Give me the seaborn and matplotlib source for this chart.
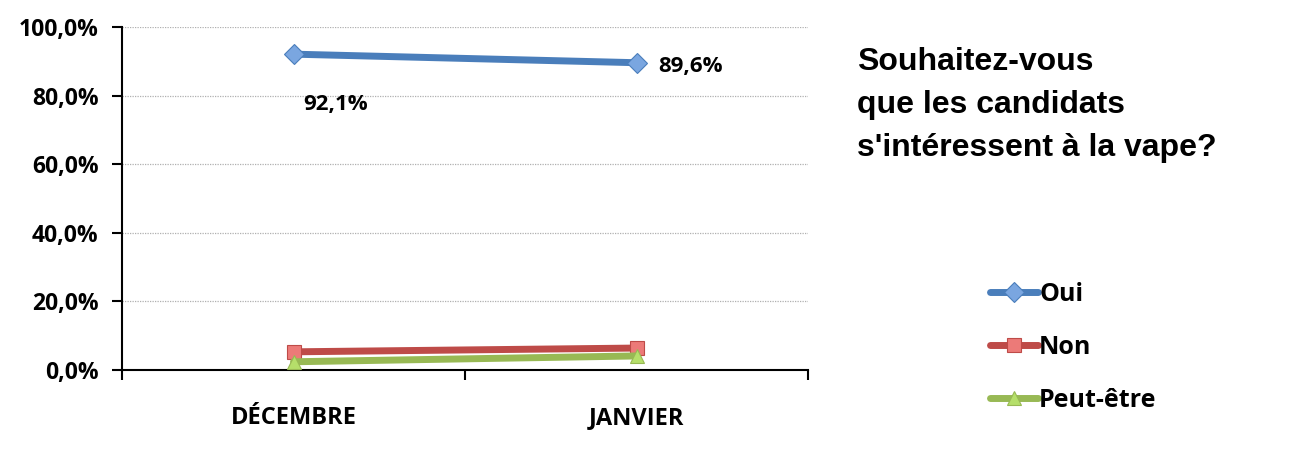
import matplotlib
matplotlib.use("Agg")
import matplotlib.pyplot as plt
import seaborn as sns
import pandas as pd
from matplotlib.ticker import FuncFormatter

months = ["DÉCEMBRE", "JANVIER"]
oui = [92.1, 89.6]
non = [5.3, 6.4]
peut_etre = [2.4, 4.1]
series_names = ["Oui", "Non", "Peut-être"]
oui_labels = ["92,1%", "89,6%"]
title_text = "Souhaitez-vous\nque les candidats\ns'intéressent à la vape?"

sns.set_style("white")
plt.rcParams['font.family'] = ['Open Sans', 'DejaVu Sans']
plt.rcParams['text.color'] = 'black'
plt.rcParams['xtick.color'] = 'black'
plt.rcParams['ytick.color'] = 'black'
plt.rcParams['xtick.bottom'] = True
plt.rcParams['ytick.left'] = True

rows = []
for name, vals in zip(series_names, [oui, non, peut_etre]):
    for i, (m, v) in enumerate(zip(months, vals)):
        rows.append({"mois": i, "serie": name, "valeur": v})
df = pd.DataFrame(rows)

fig = plt.figure(figsize=(13.02, 4.51), dpi=100)
ax = fig.add_axes([0.0937, 0.1796, 0.527, 0.7604])

palette = {"Oui": "#4a7ebb", "Non": "#be4b48", "Peut-être": "#98b954"}
mfc = {"Oui": "#7aa6e0", "Non": "#ec7a78", "Peut-être": "#b5df6a"}
markers = {"Oui": "D", "Non": "s", "Peut-être": "^"}

for name in series_names:
    sub = df[df.serie == name]
    sns.lineplot(data=sub, x="mois", y="valeur", ax=ax, color=palette[name],
                 linewidth=5.0, marker=markers[name], markersize=13,
                 markerfacecolor=mfc[name], markeredgecolor=palette[name],
                 markeredgewidth=0.8, label=name, legend=False, zorder=3)

ax.set_xlim(-0.5, 1.5)
ax.set_ylim(0, 100)
ax.set_yticks([0, 20, 40, 60, 80, 100])
ax.yaxis.set_major_formatter(FuncFormatter(lambda v, p: f"{v:.1f}%".replace(".", ",")))
ax.set_xticks([0, 1])
ax.set_xticklabels(months)
ax.set_xticks([-0.5, 0.5, 1.5], minor=True)
ax.tick_params(axis='x', which='major', length=0, pad=26, labelsize=17)
ax.tick_params(axis='x', which='minor', length=7, width=1.5, direction='out', color='black', bottom=True)
ax.tick_params(axis='y', length=7, width=1.5, direction='out', color='black', labelsize=16.5, pad=10, left=True)
for lab in ax.get_xticklabels() + ax.get_yticklabels():
    lab.set_fontweight('bold')
ax.set_xlabel("")
ax.set_ylabel("")
ax.grid(axis='y', color='#b0b0b0', linestyle=(0, (1, 1)), linewidth=0.9)
ax.grid(axis='x', visible=False)
for s in ["top", "right"]:
    ax.spines[s].set_visible(False)
ax.spines["left"].set_color("black")
ax.spines["left"].set_linewidth(1.5)
ax.spines["bottom"].set_color("black")
ax.spines["bottom"].set_linewidth(1.5)

ax.annotate(oui_labels[0], (0, oui[0]), xytext=(30, -36), textcoords='offset points',
            fontsize=16, fontweight='bold', ha='center', va='center')
ax.annotate(oui_labels[1], (1, oui[1]), xytext=(39, -3), textcoords='offset points',
            fontsize=16, fontweight='bold', ha='center', va='center')

fig.text(0.658, 0.895, title_text, fontsize=23, fontweight='bold', family=['Liberation Sans', 'DejaVu Sans'],
         ha='left', va='top', linespacing=1.55)

handles, labels = ax.get_legend_handles_labels()
for h in handles:
    h.set_markersize(10)
leg = fig.legend(handles, labels, loc='upper left', bbox_to_anchor=(0.753, 0.398),
                 frameon=False, fontsize=18, labelspacing=1.13, handlelength=1.9,
                 handletextpad=0.05, borderaxespad=0)
for t in leg.get_texts():
    t.set_fontweight('bold')

fig.savefig("out.png", dpi=100)
